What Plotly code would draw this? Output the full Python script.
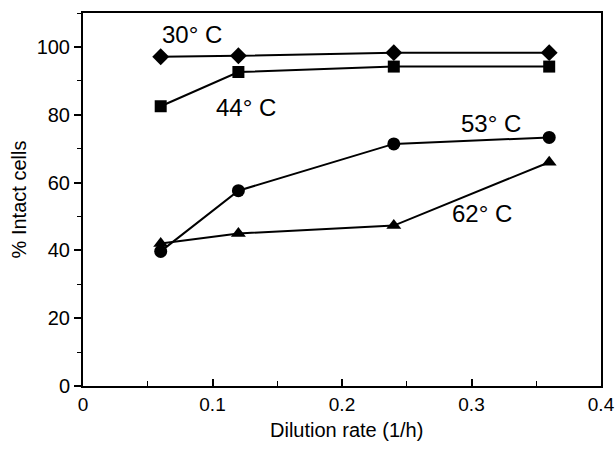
import plotly.graph_objects as go

dilution = [0.06, 0.12, 0.24, 0.36]
t30 = [97.1, 97.4, 98.3, 98.3]
t44 = [82.5, 92.6, 94.2, 94.2]
t53 = [39.7, 57.6, 71.4, 73.3]
t62 = [42.0, 45.0, 47.3, 66.0]

series_labels = ["30° C", "44° C", "53° C", "62° C"]
label_x = [0.084, 0.126, 0.315, 0.308]
label_y = [103.8, 82.0, 77.3, 50.9]

x_ticks = [0, 0.1, 0.2, 0.3, 0.4]
x_ticktext = ["0", "0.1", "0.2", "0.3", "0.4"]
y_ticks = [0, 20, 40, 60, 80, 100]

FONT = "Liberation Sans, Arial, Helvetica"

fig = go.Figure()
line = dict(color="black", width=2)
for vals, sym, size in [(t30, "diamond", 13), (t44, "square", 12),
                        (t53, "circle", 13), (t62, "triangle-up", 13)]:
    fig.add_trace(go.Scatter(x=dilution, y=vals, mode="lines+markers",
                             line=line, marker=dict(symbol=sym, size=size, color="black"),
                             showlegend=False, cliponaxis=False))

for txt, lx, ly in zip(series_labels, label_x, label_y):
    fig.add_annotation(x=lx, y=ly, text=txt, showarrow=False,
                       font=dict(size=24, color="black", family=FONT))

fig.add_annotation(x=0.508, y=-0.118, xref="paper", yref="paper",
                   text="Dilution rate (1/h)", showarrow=False,
                   xanchor="center", yanchor="middle",
                   font=dict(size=20, color="black", family=FONT))

fig.update_layout(
    width=615, height=450,
    margin=dict(l=83, r=14, t=13, b=64),
    paper_bgcolor="white", plot_bgcolor="white",
    font=dict(family=FONT, size=20, color="black"),
    xaxis=dict(range=[0, 0.4], tickvals=x_ticks, ticktext=x_ticktext,
               tickfont=dict(size=19),
               ticks="inside", ticklen=7, tickwidth=1.5, tickcolor="black",
               minor=dict(dtick=0.05, tick0=0, ticks="inside", ticklen=5, tickwidth=1.2, tickcolor="black"),
               showline=True, linecolor="black", linewidth=2, mirror=True,
               showgrid=False, zeroline=False, automargin=False,
               ticklabeloverflow="allow"),
    yaxis=dict(range=[0, 110], tickvals=y_ticks,
               ticks="outside", ticklen=7, tickwidth=1.5, tickcolor="black",
               minor=dict(dtick=10, tick0=0, ticks="outside", ticklen=4, tickwidth=1.2, tickcolor="black"),
               showline=True, linecolor="black", linewidth=2, mirror=True,
               showgrid=False, zeroline=False, automargin=False,
               title=dict(text="% Intact cells", font=dict(size=20), standoff=5)),
)

fig.write_html("out.html", config={"displayModeBar": False},
               post_script="document.body.style.margin='0';document.body.style.overflow='hidden';")
